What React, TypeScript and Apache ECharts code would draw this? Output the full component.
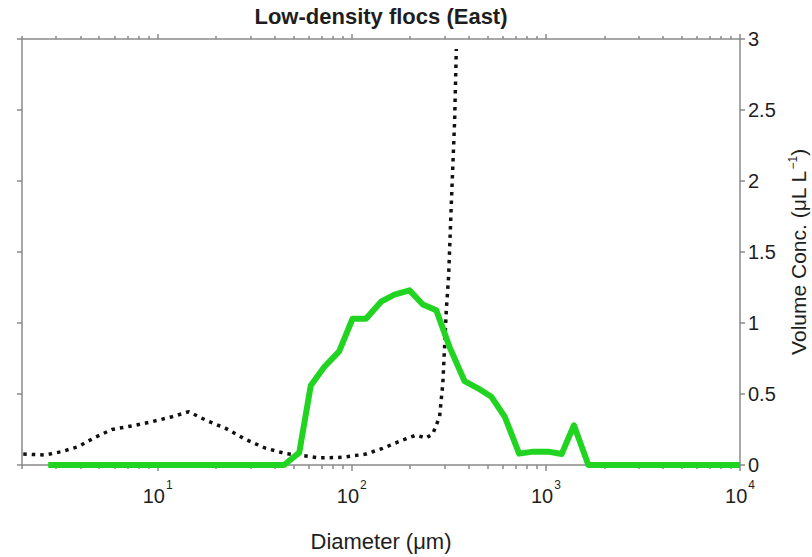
import React, { useEffect, useRef } from "react";
import * as echarts from "echarts";

// Green (solid) curve: diameter (µm) and volume concentration (µL/L)
const greenDiameters = [2.73, 44.8, 53.6, 61.5, 72.1, 86.1, 100.9, 118.3, 141.5, 165.9, 198.3, 232.3, 272.4, 319.1, 381.3, 446.7, 523.8, 614, 727.9, 859.7, 1027, 1205, 1395, 1655, 10000];
const greenVolumes = [0, 0, 0.087, 0.56, 0.69, 0.8, 1.03, 1.03, 1.15, 1.2, 1.23, 1.13, 1.09, 0.83, 0.59, 0.54, 0.48, 0.34, 0.08, 0.094, 0.094, 0.077, 0.28, 0, 0];

// Black dotted curve
const dottedDiameters = [2.03, 2.63, 3.2, 3.91, 4.76, 5.8, 7.36, 9.34, 11.86, 14.45, 17.64, 22.4, 28.4, 36.0, 45.7, 58.0, 67.9, 89.6, 118.3, 144.2, 183, 214.6, 241.7, 261.6, 283.3, 294.5, 300.6, 306.8, 315.4, 325.7, 338.8, 345.6];
const dottedVolumes = [0.077, 0.07, 0.094, 0.13, 0.195, 0.25, 0.275, 0.305, 0.34, 0.375, 0.317, 0.258, 0.18, 0.118, 0.08, 0.063, 0.05, 0.054, 0.077, 0.117, 0.176, 0.21, 0.19, 0.22, 0.34, 0.575, 0.83, 1.09, 1.33, 1.84, 2.43, 2.93];

// Axis ticks
const xMajorTicks = [10, 100, 1000, 10000];
const xMinorTicks = [2, 3, 4, 5, 6, 7, 8, 9, 20, 30, 40, 50, 60, 70, 80, 90, 200, 300, 400, 500, 600, 700, 800, 900, 2000, 3000, 4000, 5000, 6000, 7000, 8000, 9000];
const yTicks = [0, 0.5, 1, 1.5, 2, 2.5, 3];

const titleText = "Low-density flocs (East)";
const xName = "Diameter (μm)";

const FONT = "'Liberation Sans', Arial, Helvetica, sans-serif";
const AXIS_COLOR = "#8a8a8a";
const TEXT_COLOR = "#1e1e1e";

export default function App() {
  const ref = useRef<HTMLDivElement>(null);
  useEffect(() => {
    document.body.style.margin = "0";
    if (!ref.current) return;
    const chart = echarts.init(ref.current, null, { renderer: "svg" });
    const lineStyle = { color: AXIS_COLOR, width: 1.5 };
    const baseX = {
      type: "log" as const,
      logBase: 10,
      min: 2,
      max: 10000,
      splitLine: { show: false },
      minorTick: { show: false },
    };
    chart.setOption({
      animation: false,
      backgroundColor: "#ffffff",
      textStyle: { fontFamily: FONT },
      title: {
        text: titleText,
        left: 381,
        textAlign: "center",
        top: 5,
        padding: 0,
        textStyle: { fontFamily: FONT, fontSize: 22, fontWeight: "bold", color: TEXT_COLOR },
      },
      grid: { left: 22, right: 72, top: 39, bottom: 92, containLabel: false, outerBoundsMode: "none" },
      xAxis: [
        {
          ...baseX,
          position: "bottom",
          axisLine: { show: true, lineStyle },
          axisTick: { show: true, length: 6, lineStyle, customValues: xMajorTicks },
          axisLabel: {
            show: true,
            customValues: xMajorTicks,
            margin: 14,
            color: TEXT_COLOR,
            formatter: (v: number) => `{b|10}{s|${Math.round(Math.log10(v))}}`,
            rich: {
              b: { fontSize: 20, fontFamily: FONT, color: TEXT_COLOR },
              s: { fontSize: 12, fontFamily: FONT, color: TEXT_COLOR, padding: [0, 0, 22, 1] },
            },
          },
          name: xName,
          nameLocation: "middle",
          nameGap: 65,
          nameTextStyle: { fontSize: 22, color: TEXT_COLOR, fontFamily: FONT },
        },
        {
          ...baseX,
          position: "bottom",
          axisLine: { show: false },
          axisTick: { show: true, length: 4, lineStyle, customValues: xMinorTicks },
          axisLabel: { show: false },
        },
        {
          ...baseX,
          position: "top",
          axisLine: { show: true, lineStyle },
          axisTick: { show: true, length: 5, lineStyle, customValues: xMajorTicks },
          axisLabel: { show: false },
        },
        {
          ...baseX,
          position: "top",
          axisLine: { show: false },
          axisTick: { show: true, length: 3, lineStyle, customValues: xMinorTicks },
          axisLabel: { show: false },
        },
      ],
      yAxis: [
        {
          type: "value",
          position: "left",
          min: 0,
          max: 3,
          interval: 0.5,
          splitLine: { show: false },
          axisLine: { show: true, lineStyle },
          axisTick: { show: true, length: 5, lineStyle, customValues: yTicks },
          axisLabel: { show: false },
        },
        {
          type: "value",
          position: "right",
          min: 0,
          max: 3,
          interval: 0.5,
          splitLine: { show: false },
          axisLine: { show: true, lineStyle },
          axisTick: { show: true, length: 5, lineStyle },
          axisLabel: { show: true, fontSize: 20, color: TEXT_COLOR, margin: 8, fontFamily: FONT },
          name: "{n|Volume Conc. (μL L}{s|−1}{n|)}",
          nameLocation: "middle",
          nameRotate: 90,
          nameGap: 45,
          nameTextStyle: {
            rich: {
              n: { fontSize: 21, lineHeight: 22, fontFamily: FONT, color: TEXT_COLOR },
              s: { fontSize: 12, lineHeight: 12, fontFamily: FONT, color: TEXT_COLOR, padding: [0, 0, 12, 1] },
            },
          },
        },
      ],
      series: [
        {
          type: "line",
          name: "dotted",
          xAxisIndex: 0,
          yAxisIndex: 0,
          data: dottedDiameters.map((d, i) => [d, dottedVolumes[i]]),
          showSymbol: false,
          symbol: "none",
          lineStyle: { color: "#111111", width: 3.5, type: [3.5, 5], cap: "butt" },
          z: 2,
        },
        {
          type: "line",
          name: "green",
          xAxisIndex: 0,
          yAxisIndex: 0,
          data: greenDiameters.map((d, i) => [d, greenVolumes[i]]),
          showSymbol: false,
          symbol: "none",
          lineStyle: { color: "#22d422", width: 6, join: "round" },
          z: 3,
        },
      ],
    });
    return () => chart.dispose();
  }, []);
  return <div ref={ref} style={{ position: "absolute", left: 0, top: 0, width: 812, height: 557 }} />;
}
